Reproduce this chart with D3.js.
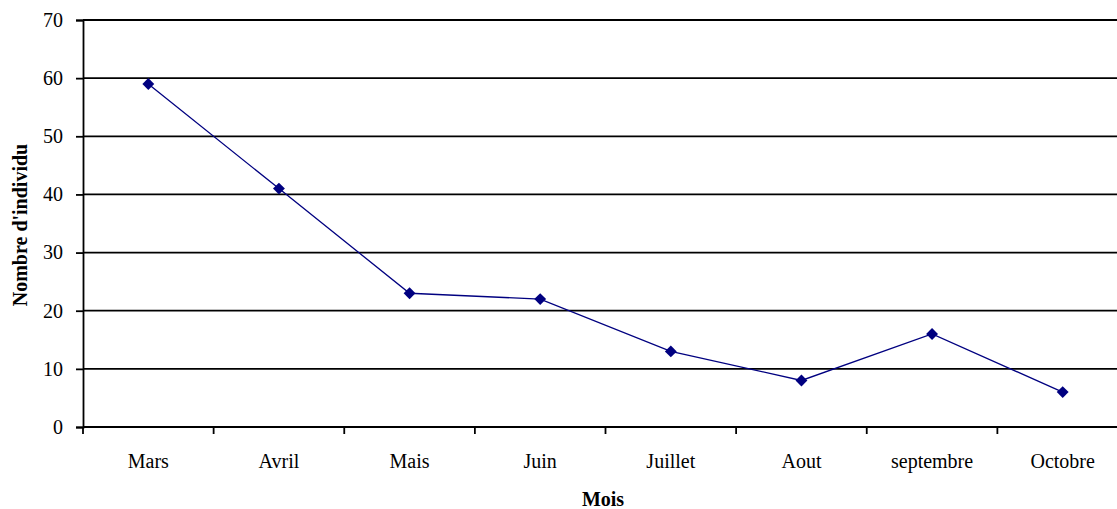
<!DOCTYPE html>
<html>
<head>
<meta charset="utf-8">
<script src="https://cdn.jsdelivr.net/npm/d3@7/dist/d3.min.js"></script>
<style>
  html, body { margin: 0; padding: 0; background: #fff; overflow: hidden; }
  svg text { font-family: "Liberation Serif", "DejaVu Serif", serif; fill: #000; }
</style>
</head>
<body>
<svg id="chart" width="1117" height="509"></svg>
<script>
// Monthly counts of individuals
const months = ["Mars", "Avril", "Mais", "Juin", "Juillet", "Aout", "septembre", "Octobre"];
const counts = [59, 41, 23, 22, 13, 8, 16, 6];
const yTicks = [0, 10, 20, 30, 40, 50, 60, 70];

const svg = d3.select("#chart");
const plotLeft = 83, plotRight = 1128, plotTop = 20, plotBottom = 427;
const fontSize = 20;

const x = d3.scaleBand().domain(months).range([plotLeft, plotRight]).paddingInner(0).paddingOuter(0);
const y = d3.scaleLinear().domain([0, 70]).range([plotBottom, plotTop]);

// Horizontal gridlines
svg.append("g")
  .selectAll("line")
  .data(yTicks.filter(d => d > 0))
  .join("line")
  .attr("x1", plotLeft).attr("x2", plotRight)
  .attr("y1", d => y(d)).attr("y2", d => y(d))
  .attr("stroke", "#000").attr("stroke-width", 1.8);

// Y axis
const yAxis = svg.append("g")
  .attr("transform", `translate(${plotLeft},0)`)
  .call(d3.axisLeft(y).tickValues(yTicks).tickSize(7).tickPadding(13).tickFormat(d3.format("d")));
yAxis.select(".domain").attr("stroke", "#000").attr("stroke-width", 1.8);
yAxis.selectAll(".tick line").attr("stroke", "#000").attr("stroke-width", 1.8);
yAxis.selectAll("text")
  .attr("font-size", fontSize)
  .attr("font-family", "Liberation Serif")
  .attr("fill", "#000");

// X axis: ticks at category boundaries, labels centered in each band
const boundaries = months.map(m => x(m));
const xAxisG = svg.append("g");
xAxisG.append("line")
  .attr("x1", plotLeft).attr("x2", plotRight)
  .attr("y1", plotBottom).attr("y2", plotBottom)
  .attr("stroke", "#000").attr("stroke-width", 1.8);
xAxisG.selectAll("line.tick")
  .data(boundaries)
  .join("line")
  .attr("class", "tick")
  .attr("x1", d => d).attr("x2", d => d)
  .attr("y1", plotBottom).attr("y2", plotBottom + 7)
  .attr("stroke", "#000").attr("stroke-width", 1.8);
xAxisG.selectAll("text")
  .data(months)
  .join("text")
  .attr("x", d => x(d) + x.bandwidth() / 2)
  .attr("y", 468)
  .attr("text-anchor", "middle")
  .attr("font-size", fontSize)
  .text(d => d);

// Axis titles
svg.append("text")
  .attr("x", 603).attr("y", 506)
  .attr("text-anchor", "middle")
  .attr("font-size", fontSize).attr("font-weight", "bold")
  .text("Mois");
svg.append("text")
  .attr("transform", "translate(27,225) rotate(-90)")
  .attr("text-anchor", "middle")
  .attr("font-size", fontSize).attr("font-weight", "bold")
  .text("Nombre d'individu");

// Series line
const pts = months.map((m, i) => [x(m) + x.bandwidth() / 2, y(counts[i])]);
svg.append("path")
  .attr("d", d3.line()(pts))
  .attr("fill", "none")
  .attr("stroke", "#000080")
  .attr("stroke-width", 1.3);

// Diamond markers
svg.append("g")
  .selectAll("path")
  .data(pts)
  .join("path")
  .attr("transform", d => `translate(${d[0]},${d[1]})`)
  .attr("d", d3.symbol().type(d3.symbolDiamond2).size(90))
  .attr("fill", "#000080");
</script>
</body>
</html>
